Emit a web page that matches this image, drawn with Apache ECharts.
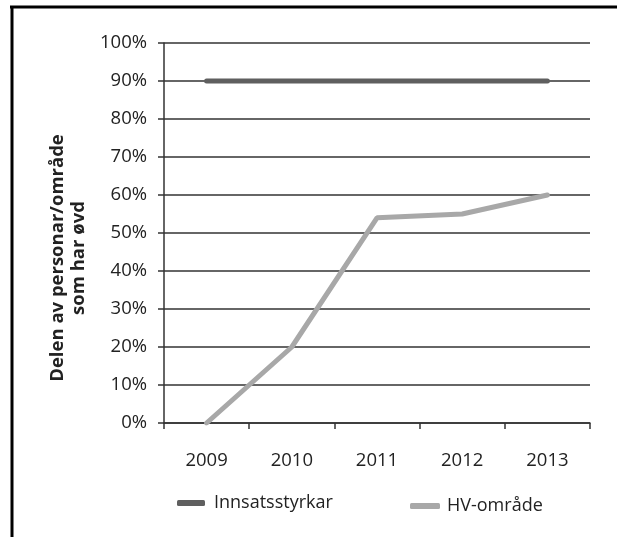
<!DOCTYPE html>
<html>
<head>
<meta charset="utf-8">
<script src="https://cdn.jsdelivr.net/npm/echarts@6/dist/echarts.min.js"></script>
<style>
html, body { margin: 0; padding: 0; background: #fff; }
#chart { width: 617px; height: 537px; }
</style>
</head>
<body>
<div id="chart"></div>
<script>
var years = ['2009', '2010', '2011', '2012', '2013'];
var innsats = [90, 90, 90, 90, 90];
var hvOmrade = [0, 20, 54, 55, 60];
var yTicks = [0, 10, 20, 30, 40, 50, 60, 70, 80, 90, 100];

var myChart = echarts.init(document.getElementById('chart'));
var font = 'Open Sans';

var option = {
    backgroundColor: '#fff',
    animation: false,
    grid: { left: 164, top: 43, right: 27, bottom: 114 },
    xAxis: {
        type: 'category',
        data: years,
        boundaryGap: true,
        axisLine: { lineStyle: { color: '#333', width: 1.5 } },
        axisTick: { show: true, length: 6, lineStyle: { color: '#333', width: 1.5 } },
        axisLabel: { color: '#222', fontSize: 18.5, fontFamily: font, margin: 28 }
    },
    yAxis: {
        type: 'value',
        min: 0,
        max: 100,
        interval: 10,
        axisLine: { show: true, lineStyle: { color: '#333', width: 1.5 } },
        axisTick: { show: true, length: 6, lineStyle: { color: '#333', width: 1.5 } },
        splitLine: { lineStyle: { color: '#333', width: 1.5 } },
        axisLabel: {
            color: '#222', fontSize: 18.5, fontFamily: font, margin: 17,
            formatter: function (v) { return yTicks.indexOf(v) >= 0 ? v + '%' : ''; }
        }
    },
    legend: [
        {
            left: 172, top: 489,
            data: [{ name: 'Innsatsstyrkar', icon: 'roundRect' }],
            itemWidth: 28, itemHeight: 6,
            textStyle: { color: '#222', fontSize: 18, fontFamily: font, padding: [0, 0, 0, 4] }
        },
        {
            left: 405, top: 492,
            data: [{ name: 'HV-område', icon: 'roundRect' }],
            itemWidth: 30, itemHeight: 6,
            textStyle: { color: '#222', fontSize: 18, fontFamily: font, padding: [0, 0, 0, 2] }
        }
    ],
    graphic: [
        { type: 'line', shape: { x1: 10, y1: 7, x2: 617, y2: 7 }, style: { stroke: '#000', lineWidth: 3 } },
        { type: 'line', shape: { x1: 12, y1: 6, x2: 12, y2: 537 }, style: { stroke: '#000', lineWidth: 3 } },
        {
            type: 'text', x: 68, y: 258, rotation: Math.PI / 2,
            style: {
                text: 'Delen av personar/område\nsom har øvd',
                fill: '#222', fontSize: 18.5, fontWeight: 'bold', fontFamily: font,
                align: 'center', verticalAlign: 'middle', lineHeight: 21
            }
        }
    ],
    series: [
        {
            name: 'Innsatsstyrkar', type: 'line', data: innsats,
            symbol: 'none', color: '#5f5f5f',
            lineStyle: { width: 5, color: '#5f5f5f', cap: 'round' }
        },
        {
            name: 'HV-område', type: 'line', data: hvOmrade,
            symbol: 'none', color: '#a8a8a8',
            lineStyle: { width: 5, color: '#a8a8a8', cap: 'round' }
        }
    ]
};

option && myChart.setOption(option);
</script>
</body>
</html>
